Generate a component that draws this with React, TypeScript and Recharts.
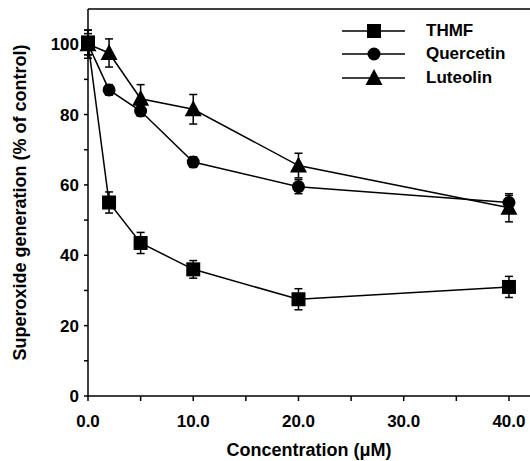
import React from 'react';
import { LineChart, Line, XAxis, YAxis, ErrorBar, ReferenceLine } from 'recharts';

const conc = [0, 2, 5, 10, 20, 40];
const thmf = [100.5, 55, 43.5, 36, 27.5, 31];
const thmfErr = [3.5, 3, 3, 2.5, 3, 3];
const quercetin = [100, 87, 81, 66.5, 59.5, 55];
const quercetinErr = [3, 1.5, 1.5, 1.5, 2, 2];
const luteolin = [100, 97.5, 84.5, 81.5, 65.5, 53.5];
const luteolinErr = [4, 4, 4, 4.2, 3.5, 4];

const xTicks = [0, 5, 10, 15, 20, 25, 30, 35, 40];
const yTicks = [0, 10, 20, 30, 40, 50, 60, 70, 80, 90, 100];

const data = conc.map((c, i) => ({
  conc: c,
  thmf: thmf[i],
  thmfErr: thmfErr[i],
  quercetin: quercetin[i],
  quercetinErr: quercetinErr[i],
  luteolin: luteolin[i],
  luteolinErr: luteolinErr[i],
}));

const FONT = '"Liberation Sans", Arial, sans-serif';

const Square = (props: any) => {
  const { cx, cy } = props;
  if (cx == null || cy == null) return null;
  return <rect x={cx - 7} y={cy - 7} width={14} height={14} fill="#000" />;
};

const Circle = (props: any) => {
  const { cx, cy } = props;
  if (cx == null || cy == null) return null;
  return <circle cx={cx} cy={cy} r={6.5} fill="#000" />;
};

const Triangle = (props: any) => {
  const { cx, cy } = props;
  if (cx == null || cy == null) return null;
  return <polygon points={`${cx},${cy - 9} ${cx - 8.5},${cy + 7} ${cx + 8.5},${cy + 7}`} fill="#000" />;
};

const XTick = (props: any) => {
  const { x, y, payload } = props;
  if (payload.value % 10 !== 0) return null;
  return (
    <text x={x} y={y + 24} textAnchor="middle" fontFamily={FONT} fontWeight="bold" fontSize={17} fill="#000">
      {payload.value.toFixed(1)}
    </text>
  );
};

const YTick = (props: any) => {
  const { x, y, payload } = props;
  if (payload.value % 20 !== 0) return null;
  return (
    <text x={x - 3} y={y + 6} textAnchor="end" fontFamily={FONT} fontWeight="bold" fontSize={17} fill="#000">
      {payload.value}
    </text>
  );
};

const legendItems = [
  { name: 'THMF', Shape: Square },
  { name: 'Quercetin', Shape: Circle },
  { name: 'Luteolin', Shape: Triangle },
];

const ChartLegend = () => (
  <div style={{ position: 'absolute', left: 340, top: 19 }}>
    {legendItems.map(({ name, Shape }) => (
      <div key={name} style={{ display: 'flex', alignItems: 'center', height: 23.5 }}>
        <svg width={86} height={22}>
          <line x1={2} y1={11} x2={65} y2={11} stroke="#000" strokeWidth={1.5} />
          <Shape cx={34} cy={11} />
        </svg>
        <span style={{ fontFamily: FONT, fontWeight: 'bold', fontSize: 17, color: '#000' }}>{name}</span>
      </div>
    ))}
  </div>
);

export default function App() {
  return (
    <div style={{ position: 'absolute', left: 0, top: 0, background: '#fff' }}>
      <LineChart width={530} height={461} data={data} margin={{ top: 9, right: 0, bottom: 0, left: 0 }}>
        <XAxis
          dataKey="conc"
          type="number"
          domain={[0, 42]}
          ticks={xTicks}
          tick={<XTick />}
          tickSize={5}
          height={65}
          stroke="#000"
          strokeWidth={1.5}
          label={{ value: 'Concentration (\u03bcM)', position: 'insideBottom', offset: 5, style: { fontFamily: FONT, fontWeight: 'bold', fontSize: 18, fill: '#000' } }}
        />
        <YAxis
          type="number"
          domain={[0, 110]}
          ticks={yTicks}
          tick={<YTick />}
          tickSize={4}
          width={88}
          stroke="#000"
          strokeWidth={1.5}
          label={{ value: 'Superoxide generation (% of control)', angle: -90, position: 'insideLeft', offset: 20, style: { textAnchor: 'middle', fontFamily: FONT, fontWeight: 'bold', fontSize: 18, fill: '#000' } }}
        />
        <ReferenceLine y={110} stroke="#000" strokeWidth={1.5} />
        <Line dataKey="luteolin" name="Luteolin" stroke="#000" strokeWidth={1.5} dot={<Triangle />} activeDot={false} isAnimationActive={false}>
          <ErrorBar dataKey="luteolinErr" direction="y" width={4} stroke="#000" strokeWidth={1.5} />
        </Line>
        <Line dataKey="quercetin" name="Quercetin" stroke="#000" strokeWidth={1.5} dot={<Circle />} activeDot={false} isAnimationActive={false}>
          <ErrorBar dataKey="quercetinErr" direction="y" width={4} stroke="#000" strokeWidth={1.5} />
        </Line>
        <Line dataKey="thmf" name="THMF" stroke="#000" strokeWidth={1.5} dot={<Square />} activeDot={false} isAnimationActive={false}>
          <ErrorBar dataKey="thmfErr" direction="y" width={4} stroke="#000" strokeWidth={1.5} />
        </Line>
      </LineChart>
      <ChartLegend />
    </div>
  );
}
